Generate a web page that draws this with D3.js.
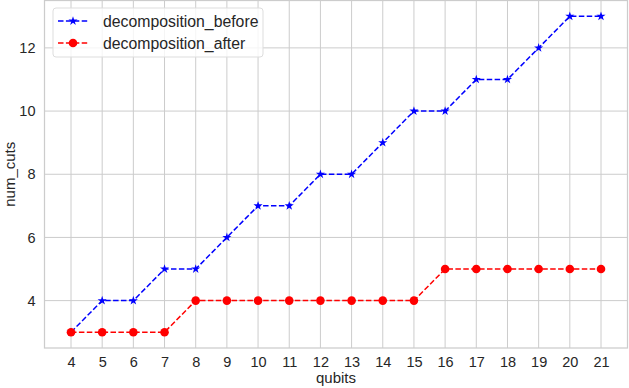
<!DOCTYPE html>
<html>
<head>
<meta charset="utf-8">
<script src="https://cdn.jsdelivr.net/npm/d3@7"></script>
<style>
  body { margin: 0; background: #fff; }
  svg { font-family: "Liberation Sans", Arial, sans-serif; }
</style>
</head>
<body>
<div id="chart"></div>
<script>
var qubits = [4, 5, 6, 7, 8, 9, 10, 11, 12, 13, 14, 15, 16, 17, 18, 19, 20, 21];
var decompositionBefore = [3, 4, 4, 5, 5, 6, 7, 7, 8, 8, 9, 10, 10, 11, 11, 12, 13, 13];
var decompositionAfter = [3, 3, 3, 3, 4, 4, 4, 4, 4, 4, 4, 4, 5, 5, 5, 5, 5, 5];
var yTicks = [4, 6, 8, 10, 12];

var series = [
  { title: "decomposition_before", color: "#0000ff", values: decompositionBefore, marker: "star" },
  { title: "decomposition_after", color: "#ff0000", values: decompositionAfter, marker: "circle" }
];

var W = 629, H = 388;
var margin = {top: 0.5, right: 1.5, bottom: 40, left: 44.5};
var width = W - margin.left - margin.right,
    height = H - margin.top - margin.bottom;

var svg = d3.select("#chart").append("svg")
    .attr("width", W).attr("height", H);
var g = svg.append("g")
    .attr("transform", "translate(" + margin.left + "," + margin.top + ")");

// matplotlib style 5% margins
var x = d3.scaleLinear().domain([3.15, 21.85]).range([0, width]);
var y = d3.scaleLinear().domain([2.5, 13.5]).range([height, 0]);

// grid
g.append("g").selectAll("line").data(qubits).enter().append("line")
  .attr("x1", d => x(d)).attr("x2", d => x(d))
  .attr("y1", 0).attr("y2", height)
  .attr("stroke", "#cccccc").attr("stroke-width", 1);
g.append("g").selectAll("line").data(yTicks).enter().append("line")
  .attr("y1", d => y(d)).attr("y2", d => y(d))
  .attr("x1", 0).attr("x2", width)
  .attr("stroke", "#cccccc").attr("stroke-width", 1);

// frame
g.append("rect")
  .attr("width", width).attr("height", height)
  .attr("fill", "none").attr("stroke", "#cccccc").attr("stroke-width", 1.25);

// axes
var xAxis = g.append("g")
  .attr("transform", "translate(0," + height + ")")
  .call(d3.axisBottom(x).tickValues(qubits).tickSize(0).tickPadding(9).tickFormat(d3.format("d")));
var yAxis = g.append("g")
  .call(d3.axisLeft(y).tickValues(yTicks).tickSize(0).tickPadding(9).tickFormat(d3.format("d")));
[xAxis, yAxis].forEach(function(a) {
  a.select(".domain").remove();
  a.selectAll("text").attr("fill", "#262626").style("font-size", "14.5px");
});

// axis labels
svg.append("text")
  .attr("x", margin.left + width / 2).attr("y", H - 5)
  .attr("text-anchor", "middle").attr("fill", "#262626")
  .style("font-size", "15px").text("qubits");
svg.append("text")
  .attr("transform", "translate(15," + (margin.top + height / 2) + ") rotate(-90)")
  .attr("text-anchor", "middle").attr("fill", "#262626")
  .style("font-size", "15px").text("num_cuts");

var line = d3.line()
  .x((d, i) => x(qubits[i]))
  .y(d => y(d));

var star = d3.symbol().type(d3.symbolStar).size(26);

function drawMarker(sel, s) {
  if (s.marker == "circle") {
    sel.append("circle").attr("r", 4.3).attr("fill", s.color);
  } else {
    sel.append("path").attr("d", star).attr("fill", s.color);
  }
}

series.forEach(function(s) {
  g.append("path")
    .datum(s.values)
    .attr("fill", "none")
    .attr("stroke", s.color)
    .attr("stroke-width", 1.5)
    .attr("stroke-dasharray", "5.5,2.4")
    .attr("d", line);
  g.append("g").selectAll("g").data(s.values).enter().append("g")
    .attr("transform", (d, i) => "translate(" + x(qubits[i]) + "," + y(d) + ")")
    .each(function() { drawMarker(d3.select(this), s); });
});

// legend
var legend = svg.append("g").attr("transform", "translate(53,8)");
legend.append("rect")
  .attr("width", 210).attr("height", 49).attr("rx", 3)
  .attr("fill", "#ffffff").attr("fill-opacity", 0.8)
  .attr("stroke", "#dddddd").attr("stroke-width", 1);
series.forEach(function(s, i) {
  var row = legend.append("g").attr("transform", "translate(0," + (13 + i * 22) + ")");
  row.append("line")
    .attr("x1", 5).attr("x2", 35)
    .attr("stroke", s.color).attr("stroke-width", 1.5)
    .attr("stroke-dasharray", "5.5,2.4");
  var m = row.append("g").attr("transform", "translate(20,0)");
  drawMarker(m, s);
  row.append("text")
    .attr("x", 50).attr("y", 5.5)
    .attr("fill", "#262626").style("font-size", "15.8px")
    .text(s.title);
});
</script>
</body>
</html>
